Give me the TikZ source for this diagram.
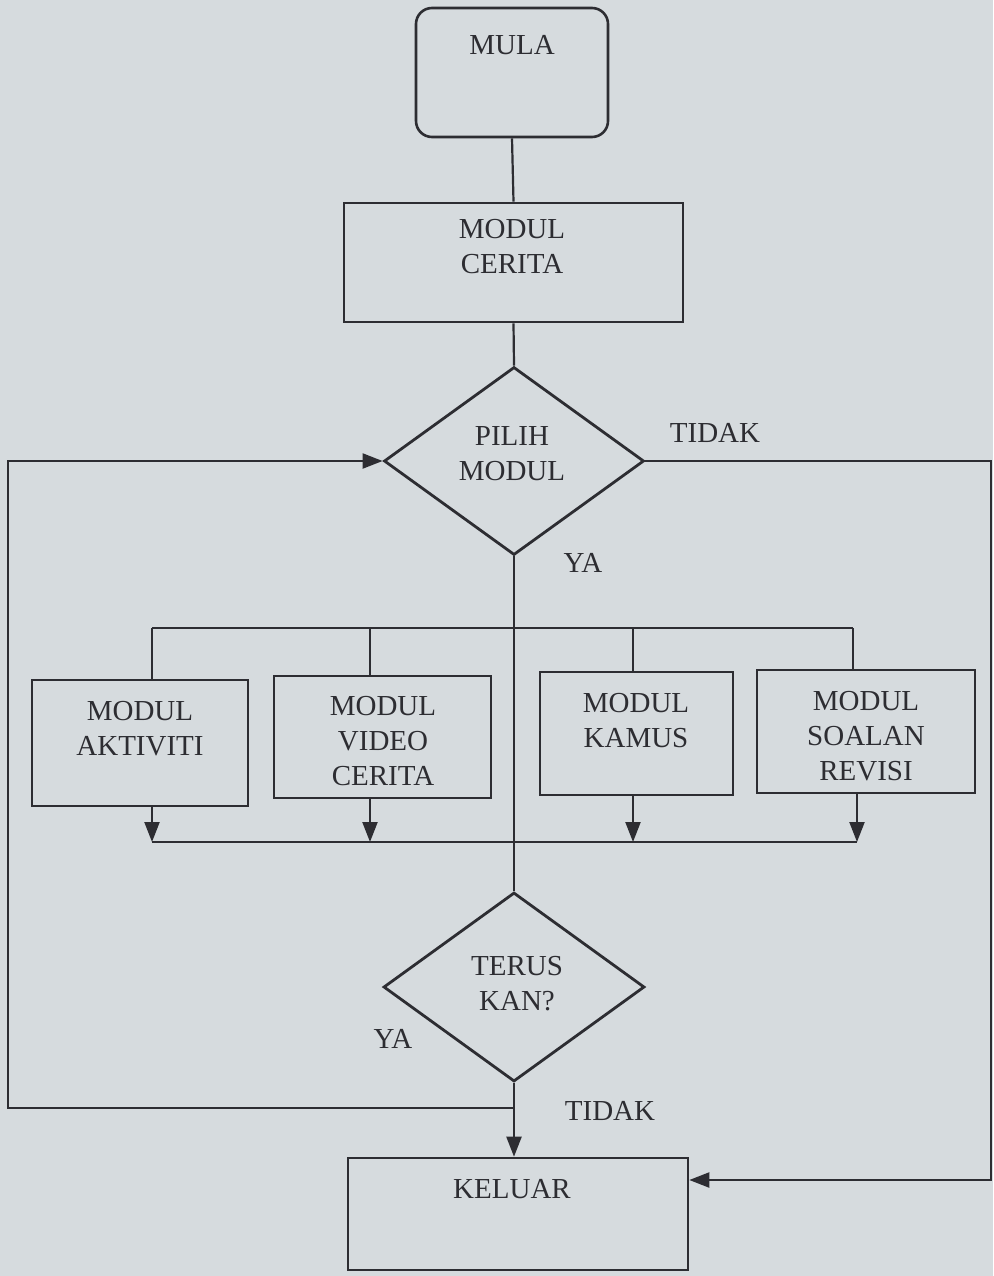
\documentclass[tikz,border=0pt]{standalone}
\usepackage{fontspec}
\setmainfont{Liberation Serif}
\usetikzlibrary{shapes.geometric,arrows.meta,calc}
\definecolor{bg}{RGB}{214,219,222}
\definecolor{ink}{RGB}{45,45,50}
\begin{document}
\begin{tikzpicture}[x=1pt,y=-1pt,
  boxst/.style={draw=ink,line width=2.6pt,inner sep=0pt},
  dia/.style={draw=ink,line width=2.8pt,shape=diamond,inner sep=0pt},
  txt/.style={text=ink,font=\fontsize{29}{35}\selectfont,align=center,inner sep=0pt},
  conn/.style={draw=ink,line width=2.2pt},
  arr/.style={conn,-{Triangle[length=20pt,width=15pt]}}]
\fill[bg] (0,0) rectangle (993,1276);
\useasboundingbox (0,0) rectangle (993,1276);
% shapes
\node[boxst,rounded corners=16pt,minimum width=192pt,minimum height=129pt] (mula) at (512,72.5) {};
\node[boxst,minimum width=339pt,minimum height=119pt] (cerita) at (513.5,262.5) {};
\node[dia,minimum width=260pt,minimum height=188pt] (pilih) at (514,461) {};
\node[boxst,minimum width=216pt,minimum height=126pt] (akt) at (140,743) {};
\node[boxst,minimum width=217pt,minimum height=122pt] (vid) at (382.5,737) {};
\node[boxst,minimum width=193pt,minimum height=123pt] (kam) at (636.5,733.5) {};
\node[boxst,minimum width=218pt,minimum height=123pt] (soa) at (866,731.5) {};
\node[dia,minimum width=261pt,minimum height=189pt] (terus) at (514,987) {};
\node[boxst,minimum width=340pt,minimum height=112pt] (kel) at (518,1214) {};
% texts (anchor base = baseline of last line)
\node[txt,anchor=base] at (512,55) {MULA};
\node[txt,anchor=base] at (512,273) {MODUL\\CERITA};
\node[txt,anchor=base] at (512,480) {PILIH\\MODUL};
\node[txt,anchor=base] at (140,755) {MODUL\\AKTIVITI};
\node[txt,anchor=base] at (383,785) {MODUL\\VIDEO\\CERITA};
\node[txt,anchor=base] at (636,747) {MODUL\\KAMUS};
\node[txt,anchor=base] at (866,780) {MODUL\\SOALAN\\REVISI};
\node[txt,anchor=base] at (517,1010) {TERUS\\KAN?};
\node[txt,anchor=base] at (512,1198) {KELUAR};
\node[txt,anchor=base] (l1) at (715,442) {TIDAK};
\node[txt,anchor=base] (l2) at (583,572) {YA};
\node[txt,anchor=base] (l3) at (393,1048) {YA};
\node[txt,anchor=base] (l4) at (610,1120) {TIDAK};
% coordinates
\coordinate (bt) at (514,628);
\coordinate (bb) at (514,842);
\coordinate (yj) at (514,1108);
\coordinate (lc) at (8,1108);
\coordinate (lt) at (8,461);
\coordinate (rt) at (991,461);
\coordinate (rb) at (991,1180);
% connectors
\draw[conn] (mula.south) -- (cerita.north);
\draw[conn] (cerita.south) -- (pilih.north);
\draw[conn] (pilih.south) -- (terus.north);
\draw[conn] (bt -| 152,0) -- (bt -| 853,0);
\draw[conn] (bt -| 152,0) -- (akt.north -| 152,0);
\draw[conn] (bt -| 370,0) -- (vid.north -| 370,0);
\draw[conn] (bt -| 633,0) -- (kam.north -| 633,0);
\draw[conn] (bt -| 853,0) -- (soa.north -| 853,0);
\draw[arr] (akt.south -| 152,0) -- (bb -| 152,0);
\draw[arr] (vid.south -| 370,0) -- (bb -| 370,0);
\draw[arr] (kam.south -| 633,0) -- (bb -| 633,0);
\draw[arr] (soa.south -| 857,0) -- (bb -| 857,0);
\draw[conn] (bb -| 152,0) -- (bb -| 857,0);
\draw[arr] (terus.south) -- (terus.south |- kel.north);
\draw[arr] (yj) -- (lc) -- (lt) -- (pilih.west);
\draw[arr] (pilih.east) -- (rt) -- (rb) -- (rb -| kel.east);
\end{tikzpicture}
\end{document}
